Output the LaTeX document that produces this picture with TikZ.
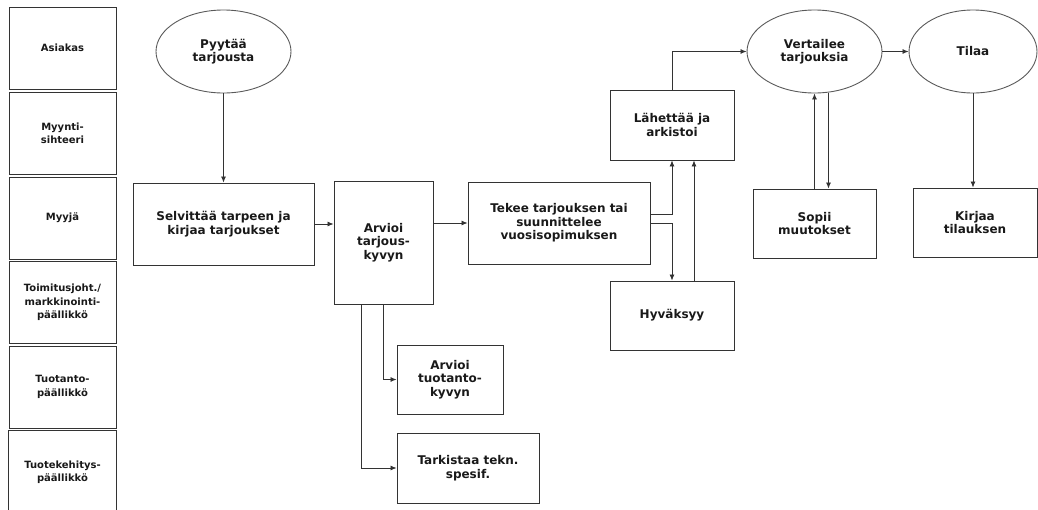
\documentclass[tikz,border=0pt]{standalone}
\usepackage{fontspec}
\setmainfont{DejaVu Sans}
\usetikzlibrary{arrows.meta,shapes.geometric}
\tikzset{
  lane/.style={draw=black!80,line width=.9pt,minimum width=107pt,minimum height=82pt,inner sep=0pt,align=center,font=\fontsize{10}{13.3}\selectfont\bfseries,text=black!90},
  task/.style={draw=black!80,line width=.9pt,inner sep=0pt,align=center,font=\fontsize{12}{13.5}\selectfont\bfseries,text=black!90},
  event/.style={task,ellipse,draw=black!65,minimum width=135pt,minimum height=83pt},
  flow/.style={black!80,line width=.8pt,-{Latex[length=6pt,width=5pt]}}
}
\begin{document}
\begin{tikzpicture}[x=1pt,y=-1pt]
\useasboundingbox (0,0) rectangle (1038,509);

% swimlanes
\node[lane] (asiakas) at (62.5,48) {Asiakas};
\node[lane] (sihteeri) at (62.5,133.5) {Myynti-\\sihteeri};
\node[lane] (myyja) at (62.5,218) {Myyjä};
\node[lane] (johtaja) at (62.5,302.5) {Toimitusjoht./\\markkinointi-\\päällikkö};
\node[lane] (tuotanto) at (62.5,387) {Tuotanto-\\päällikkö};
\node[lane,draw=none] (kehitys) at (62.5,472) {Tuotekehitys-\\päällikkö};
\draw[black!80,line width=.9pt] (kehitys.south west) -- (kehitys.north west) -- (kehitys.north east) -- (kehitys.south east);

% customer
\node[event] (pyytaa) at (223.5,51.5) {Pyytää\\tarjousta};
\node[event] (vertailee) at (814.5,51.5) {Vertailee\\tarjouksia};
\node[event,minimum width=128pt] (tilaa) at (973,51.5) {Tilaa};

% sales
\node[task,minimum width=181pt,minimum height=82pt] (selvittaa) at (223.5,224) {Selvittää tarpeen ja\\kirjaa tarjoukset};
\node[task,minimum width=99pt,minimum height=123pt] (arvioi) at (383.5,242.5) {Arvioi\\tarjous-\\kyvyn};
\node[task,minimum width=182pt,minimum height=82pt] (tekee) at (559,223) {Tekee tarjouksen tai\\suunnittelee\\vuosisopimuksen};
\node[task,minimum width=124pt,minimum height=70pt] (lahettaa) at (672,125) {Lähettää ja\\arkistoi};
\node[task,minimum width=124pt,minimum height=69pt] (hyvaksyy) at (672,315.5) {Hyväksyy};
\node[task,minimum width=123pt,minimum height=69pt] (sopii) at (814.5,223.5) {Sopii\\muutokset};
\node[task,minimum width=124pt,minimum height=69pt] (kirjaa) at (975,222.5) {Kirjaa\\tilauksen};

% production
\node[task,minimum width=106pt,minimum height=69pt] (kyky) at (450,379.5) {Arvioi\\tuotanto-\\kyvyn};
\node[task,minimum width=142pt,minimum height=70pt] (tarkistaa) at (468,468) {Tarkistaa tekn.\\spesif.};

% flows
\draw[flow] (pyytaa.south) -- (selvittaa.north);
\draw[flow] (selvittaa.east) -- (arvioi.west |- selvittaa.east);
\draw[flow] (arvioi.east |- tekee.west) -- (tekee.west);
\draw[flow] (arvioi.south) |- (kyky.west);
\draw[flow] ([xshift=-22pt]arvioi.south) |- (tarkistaa.west);
\draw[flow] ([yshift=9pt]tekee.east) -| (lahettaa.south);
\draw[flow] (tekee.east) -| (hyvaksyy.north);
\draw[flow] ([xshift=22pt]hyvaksyy.north) -- ([xshift=22pt]lahettaa.south);
\draw[flow] (lahettaa.north) |- (vertailee.west);
\draw[flow] (vertailee.east) -- (tilaa.west);
\draw[flow] (sopii.north) -- (vertailee.south);
\draw[flow] ([xshift=14pt]vertailee.south) -- ([xshift=14pt]sopii.north);
\draw[flow] (tilaa.south) -- (tilaa.south |- kirjaa.north);
\end{tikzpicture}
\end{document}
